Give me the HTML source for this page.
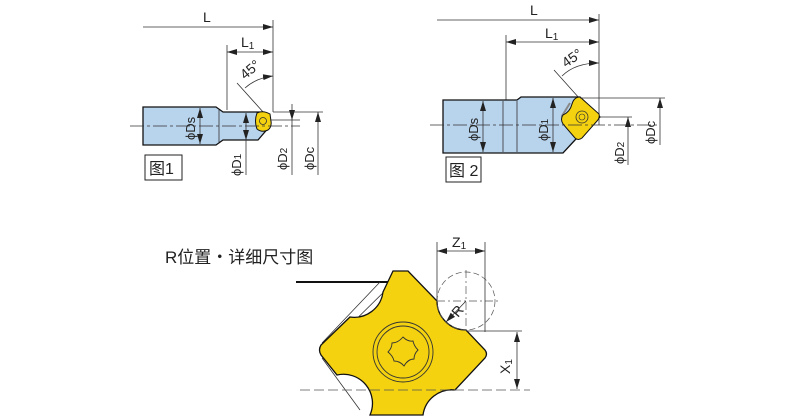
<!DOCTYPE html>
<html><head><meta charset="utf-8"><style>
html,body{margin:0;padding:0;background:#fff}
svg{display:block}
text{font-family:"Liberation Sans","Noto Sans CJK SC",sans-serif;fill:#222}
</style></head><body>
<svg width="800" height="420" viewBox="0 0 800 420" xmlns="http://www.w3.org/2000/svg">
<defs>
<marker id="a" viewBox="0 0 10 6" refX="10" refY="3" markerWidth="10" markerHeight="6" orient="auto-start-reverse" markerUnits="userSpaceOnUse"><path d="M0,0L10,3L0,6z" fill="#222"/></marker>
</defs>
<g stroke="#333" stroke-width="0.8" fill="none">
<line x1="143" y1="27" x2="273" y2="27" marker-end="url(#a)"/>
<line x1="273" y1="20" x2="273" y2="112"/>
<line x1="227" y1="52" x2="273" y2="52" marker-start="url(#a)" marker-end="url(#a)"/>
<line x1="227" y1="45" x2="227" y2="110"/>
<line x1="237" y1="83" x2="264" y2="113"/>
<path d="M245,88 Q256,78 273,76" marker-end="url(#a)"/>
</g>
<path d="M143,107H216L223,112H262L270,126L258,140H223L216,145H143Z" fill="#b8d3ec" stroke="#111" stroke-width="1.3"/>
<line x1="219" y1="110" x2="219" y2="142" stroke="#333" stroke-width="0.8"/>
<path d="M257,113 Q263,110 270,114 L271,121 Q272,127 268,130 Q262,133 257,129 Q254,121 257,113Z" fill="#f4d20f" stroke="#111" stroke-width="1"/>
<circle cx="263" cy="121" r="3.5" fill="none" stroke="#333" stroke-width="0.8"/>
<g stroke="#333" stroke-width="0.8" fill="none">
<line x1="130" y1="126" x2="300" y2="126" stroke-dasharray="14,3,3,3"/>
<line x1="200" y1="108" x2="200" y2="144" marker-start="url(#a)" marker-end="url(#a)"/>
<line x1="246" y1="113" x2="246" y2="140" marker-start="url(#a)" marker-end="url(#a)"/>
<line x1="246" y1="140" x2="246" y2="175"/>
<line x1="270" y1="120" x2="300" y2="120"/>
<line x1="292" y1="104" x2="292" y2="120" marker-end="url(#a)"/>
<line x1="292" y1="120" x2="292" y2="175"/>
<line x1="273" y1="112" x2="323" y2="112"/>
<line x1="318" y1="175" x2="318" y2="112" marker-end="url(#a)"/>
<rect x="145" y="155" width="37" height="25" stroke="#222" stroke-width="1"/>
</g>
<text x="203" y="22" font-size="14">L</text>
<text x="241" y="47" font-size="14">L<tspan font-size="10" dy="2">1</tspan></text>
<text x="0" y="0" font-size="14" transform="translate(245,80) rotate(-40)">45°</text>
<text x="0" y="0" font-size="13" transform="translate(195,140) rotate(-90)">ϕDs</text>
<text x="0" y="0" font-size="13" transform="translate(241,176) rotate(-90)">ϕD<tspan font-size="10">1</tspan></text>
<text x="0" y="0" font-size="13" transform="translate(287,170) rotate(-90)">ϕD<tspan font-size="10">2</tspan></text>
<text x="0" y="0" font-size="13" transform="translate(314,170) rotate(-90)">ϕDc</text>
<text x="149" y="174" font-size="16">图1</text>

<g stroke="#333" stroke-width="0.8" fill="none">
<line x1="437" y1="20" x2="599" y2="20" marker-end="url(#a)"/>
<line x1="599" y1="14" x2="599" y2="125"/>
<line x1="506" y1="42" x2="599" y2="42" marker-start="url(#a)" marker-end="url(#a)"/>
<line x1="506" y1="35" x2="506" y2="100"/>
<line x1="554" y1="70" x2="580" y2="99"/>
<path d="M562,76 Q575,63 599,63" marker-end="url(#a)"/>
</g>
<path d="M443,100H503L517,100L521,97H580L600,117L575,140L563,153H521L517,153H443Z" fill="#b8d3ec" stroke="#111" stroke-width="1.3"/>
<line x1="503" y1="101" x2="503" y2="152" stroke="#333" stroke-width="0.8"/>
<line x1="517" y1="101" x2="517" y2="152" stroke="#333" stroke-width="0.8"/>
<path d="M570,103 L562,116 L575,134" fill="none" stroke="#888" stroke-width="2"/>
<path d="M580,97 L599,114 Q600,118 597,121 L582,138 Q578,141 575,138 L563,124 Q560,119 563,115 Q570,112 572,104 Q574,97 580,97Z" fill="#f4d20f" stroke="#111" stroke-width="1"/>
<circle cx="582" cy="117" r="6" fill="none" stroke="#333" stroke-width="0.8"/>
<circle cx="582" cy="117" r="3" fill="none" stroke="#333" stroke-width="0.6"/>
<g stroke="#333" stroke-width="0.8" fill="none">
<line x1="430" y1="125" x2="660" y2="125" stroke-dasharray="14,3,3,3"/>
<line x1="483" y1="101" x2="483" y2="152" marker-start="url(#a)" marker-end="url(#a)"/>
<line x1="553" y1="98" x2="553" y2="152" marker-start="url(#a)" marker-end="url(#a)"/>
<line x1="600" y1="117" x2="632" y2="117"/>
<line x1="628" y1="165" x2="628" y2="117" marker-end="url(#a)"/>
<line x1="580" y1="98" x2="665" y2="98"/>
<line x1="660" y1="145" x2="660" y2="98" marker-end="url(#a)"/>
<rect x="446" y="157" width="35" height="25" stroke="#222" stroke-width="1"/>
</g>
<text x="530" y="15" font-size="14">L</text>
<text x="545" y="38" font-size="14">L<tspan font-size="10" dy="2">1</tspan></text>
<text x="0" y="0" font-size="14" transform="translate(566,68) rotate(-35)">45°</text>
<text x="0" y="0" font-size="13" transform="translate(478,141) rotate(-90)">ϕDs</text>
<text x="0" y="0" font-size="13" transform="translate(548,141) rotate(-90)">ϕD<tspan font-size="10">1</tspan></text>
<text x="0" y="0" font-size="13" transform="translate(624,164) rotate(-90)">ϕD<tspan font-size="10">2</tspan></text>
<text x="0" y="0" font-size="13" transform="translate(655,144) rotate(-90)">ϕDc</text>
<text x="449" y="176" font-size="16">图 2</text>

<text x="165" y="263" font-size="17">R位置・详细尺寸图</text>
<line x1="296" y1="282" x2="390" y2="282" stroke="#111" stroke-width="2"/>
<g stroke="#333" stroke-width="0.8" fill="none">
<path d="M380,282 L322,343 M322,358 L360,410"/>
<path d="M390,286 L330,345"/>
</g>
<path d="M393,271 H408 L437,301 A29,29 0 0 0 466,330 L485,350 Q488,354 485,358 L455,390 A29,29 0 0 0 423,415 L370,415 A29,29 0 0 0 337,375 L321,355 Q318,350 321,345 L350,317 A29,29 0 0 0 383,292 Z" fill="#f4d20f" stroke="#111" stroke-width="1.3"/>
<circle cx="403" cy="352" r="30" fill="none" stroke="#333" stroke-width="0.9"/>
<circle cx="403" cy="352" r="26" fill="none" stroke="#333" stroke-width="0.9"/>
<path d="M403,337 Q408,342 413,341 Q414,346 418,350 Q414,354 414,359 Q408,359 404,366 Q400,361 394,361 Q393,356 388,352 Q392,348 392,343 Q398,343 403,337Z" fill="none" stroke="#333" stroke-width="0.9"/>
<g stroke="#555" stroke-width="0.7" fill="none">
<circle cx="466" cy="301" r="29" stroke-dasharray="6,3"/>
<line x1="466" y1="270" x2="466" y2="333" stroke-dasharray="8,3,2,3"/>
<line x1="437" y1="301" x2="500" y2="301" stroke-dasharray="8,3,2,3"/>
<line x1="300" y1="390" x2="530" y2="390" stroke-dasharray="10,4"/>
<line x1="466" y1="301" x2="446" y2="322" stroke="#222" marker-end="url(#a)"/>
</g>
<g stroke="#333" stroke-width="0.8" fill="none">
<line x1="437" y1="242" x2="437" y2="300"/>
<line x1="485" y1="242" x2="485" y2="332"/>
<line x1="437" y1="251" x2="485" y2="251" marker-start="url(#a)" marker-end="url(#a)"/>
<line x1="466" y1="331" x2="522" y2="331"/>
<line x1="517" y1="332" x2="517" y2="389" marker-start="url(#a)" marker-end="url(#a)"/>
</g>
<text x="452" y="247" font-size="14">Z<tspan font-size="10" dy="2">1</tspan></text>
<text x="0" y="0" font-size="14" transform="translate(458,318) rotate(-50)">R</text>
<text x="0" y="0" font-size="14" transform="translate(510,374) rotate(-90)">X<tspan font-size="10" dy="2">1</tspan></text>
</svg>
</body></html>
